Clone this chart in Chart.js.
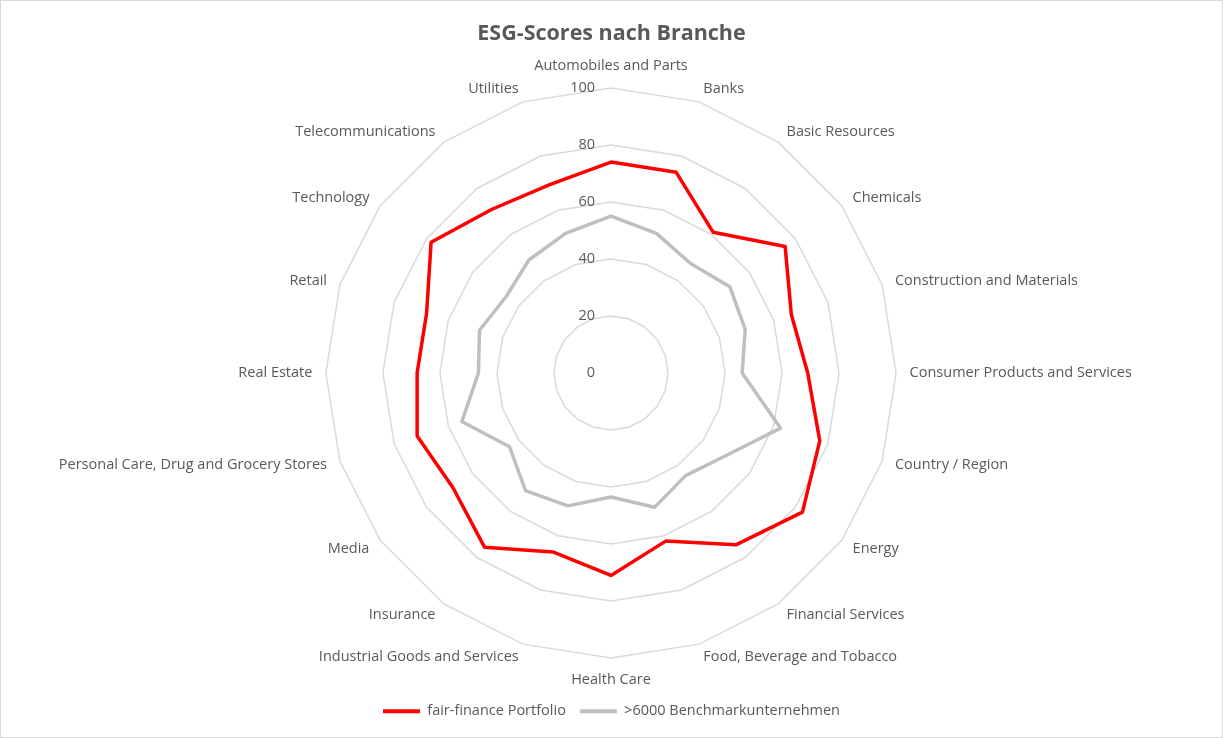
<!DOCTYPE html>
<html>
<head>
<meta charset="utf-8">
<script src="https://cdn.jsdelivr.net/npm/chart.js@4.4.1/dist/chart.umd.min.js"></script>
<style>
  html, body { margin: 0; padding: 0; background: #ffffff; }
  #wrap { position: relative; width: 1223px; height: 738px; }
  #frame { position: absolute; left: 0; top: 0; width: 1223px; height: 738px; box-sizing: border-box; border: 1px solid #d9d9d9; pointer-events: none; }
</style>
</head>
<body>
<div id="wrap">
  <canvas id="c" width="1223" height="738"></canvas>
  <div id="frame"></div>
</div>
<script>
const categories = [
  "Automobiles and Parts", "Banks", "Basic Resources", "Chemicals",
  "Construction and Materials", "Consumer Products and Services", "Country / Region",
  "Energy", "Financial Services", "Food, Beverage and Tobacco", "Health Care",
  "Industrial Goods and Services", "Insurance", "Media",
  "Personal Care, Drug and Grocery Stores", "Real Estate", "Retail",
  "Technology", "Telecommunications", "Utilities"
];
const portfolioValues = [74, 74, 61, 75.5, 66.5, 69, 77, 83, 74.5, 62, 71, 66, 75.5, 68.5, 71.5, 68, 68, 78, 71, 69.5];
const benchmarkValues = [55, 51.5, 47.5, 51.5, 49.5, 46, 62.5, 49.5, 44.5, 49.5, 43.5, 49, 51, 44, 55, 46.5, 48.5, 45.5, 49, 51.5];
const seriesNames = ["fair-finance Portfolio", ">6000 Benchmarkunternehmen"];
const tickValues = [0, 20, 40, 60, 80, 100];
const titleText = "ESG-Scores nach Branche";

const FONT = '"Open Sans", "Liberation Sans", sans-serif';
const TEXT = '#595959';
const LABEL_PAD = 13.5;

const tickLabelPlugin = {
  id: 'tickLabelPlugin',
  afterDatasetsDraw(chart) {
    const s = chart.scales.r;
    const ctx = chart.ctx;
    ctx.save();
    ctx.font = '14.5px ' + FONT;
    ctx.fillStyle = TEXT;
    ctx.textAlign = 'right';
    ctx.textBaseline = 'middle';
    tickValues.forEach(v => {
      const d = s.getDistanceFromCenterForValue(v);
      ctx.fillText(String(v), s.xCenter - 16, s.yCenter - d);
    });
    ctx.restore();
  }
};

new Chart(document.getElementById('c'), {
  type: 'radar',
  data: {
    labels: categories,
    datasets: [
      {
        label: seriesNames[0],
        data: portfolioValues,
        borderColor: '#ff0000',
        backgroundColor: '#ff0000',
        borderWidth: 3.5,
        fill: false,
        pointRadius: 0,
        pointHoverRadius: 0,
        borderJoinStyle: 'round'
      },
      {
        label: seriesNames[1],
        data: benchmarkValues,
        borderColor: '#bfbfbf',
        backgroundColor: '#bfbfbf',
        borderWidth: 3.5,
        fill: false,
        pointRadius: 0,
        pointHoverRadius: 0,
        borderJoinStyle: 'round'
      }
    ]
  },
  options: {
    responsive: false,
    animation: false,
    devicePixelRatio: 1,
    layout: { padding: { top: 0, bottom: 9.5, left: 0, right: 0 } },
    plugins: {
      title: {
        display: true,
        text: titleText,
        color: TEXT,
        font: { family: FONT, size: 21.5, weight: 'bold', lineHeight: 1.2 },
        padding: { top: 20.5, bottom: 10.7 }
      },
      legend: {
        position: 'bottom',
        labels: {
          color: TEXT,
          font: { family: FONT, size: 14.5 },
          boxWidth: 37,
          boxHeight: 4,
          padding: 14,
          generateLabels(chart) {
            const items = Chart.defaults.plugins.legend.labels.generateLabels(chart);
            return items.map(it => Object.assign(it, { lineWidth: 0, fillStyle: it.strokeStyle }));
          }
        }
      },
      tooltip: { enabled: false }
    },
    scales: {
      r: {
        min: 0,
        max: 100,
        ticks: { display: false, stepSize: 20 },
        angleLines: { display: false },
        grid: { circular: false, color: '#d9d9d9', lineWidth: 1.5 },
        pointLabels: {
          color: TEXT,
          font: { family: FONT, size: 14.5, lineHeight: 1.2 },
          padding: LABEL_PAD
        },
        afterFit(scale) {
          const items = scale._pointLabelItems;
          if (!items) return;
          const n = items.length;
          items.forEach((it, i) => {
            const deg = Math.round(i * 360 / n);
            if (deg === 0 || deg === 180 || deg === 90 || deg === 270) return;
            const pos = scale.getPointPosition(i, scale.drawingArea + LABEL_PAD);
            const h = it.bottom - it.top;
            it.y = pos.y - h / 2;
            it.top = it.y;
            it.bottom = it.y + h;
          });
        }
      }
    }
  },
  plugins: [tickLabelPlugin]
});
</script>
</body>
</html>
